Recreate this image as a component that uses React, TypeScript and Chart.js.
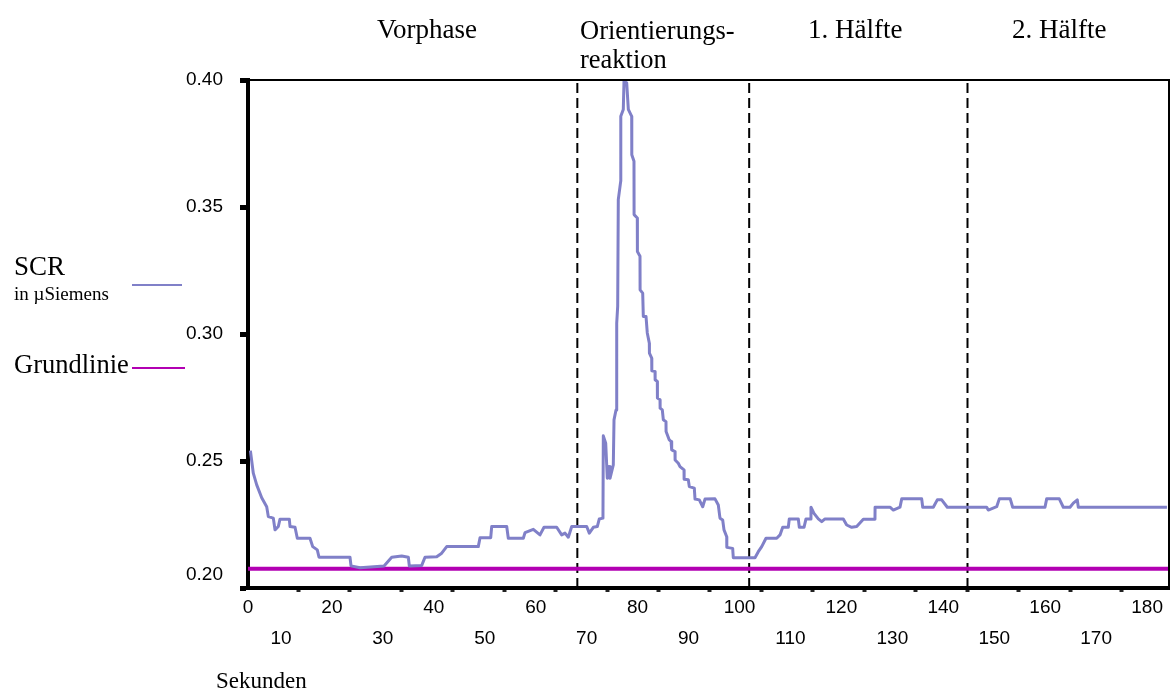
import React, { useEffect, useRef } from "react";
import { Chart, registerables } from "chart.js";

Chart.register(...registerables);

// Skin conductance response (µSiemens) over time in seconds
const seconds = [
  4.0, 4.57, 5.24, 6.22, 7.2, 7.52, 8.5, 8.83, 9.48, 9.81, 11.64, 11.78, 12.76, 13.21, 15.7, 16.23,
  17.13, 17.47, 23.55, 23.75, 25.52, 30.23, 31.74, 33.7, 35.0, 35.19, 37.63, 38.27, 40.57, 41.55,
  42.53, 48.73, 49.07, 51.17, 51.36, 54.31, 54.62, 57.57, 57.9, 59.53, 60.84, 61.63, 64.12, 65.1,
  65.75, 66.4, 67.07, 70.01, 70.52, 71.31, 72.09, 72.48, 73.2, 73.27, 73.74, 74.05, 74.39, 74.58,
  75.23, 75.37, 75.76, 75.9, 76.09, 76.21, 76.68, 76.7, 77.19, 77.33, 77.86, 78.18, 78.84, 78.86,
  79.29, 79.31, 79.94, 79.96, 80.47, 80.49, 81.0, 81.12, 81.65, 81.9, 82.3, 82.32, 82.77, 82.79,
  83.42, 83.44, 83.87, 83.89, 84.4, 84.42, 84.85, 85.05, 85.57, 85.59, 86.22, 86.56, 86.69, 87.34,
  87.36, 87.99, 88.32, 89.11, 89.13, 89.95, 90.15, 91.13, 91.27, 92.11, 92.78, 93.23, 95.19, 95.84,
  96.17, 96.7, 96.96, 97.49, 97.51, 98.66, 98.78, 103.04, 103.69, 104.36, 105.2, 107.3, 107.95,
  108.48, 109.58, 109.77, 111.54, 111.74, 112.66, 113.05, 113.84, 114.03, 114.62, 115.47, 116.14,
  116.78, 120.37, 121.04, 122.02, 123.0, 124.3, 126.59, 126.61, 129.54, 130.19, 131.5, 131.84,
  135.76, 135.96, 138.04, 138.82, 139.69, 140.79, 148.52, 148.83, 150.48, 150.99, 153.14, 153.62,
  159.96, 160.29, 162.77, 163.56, 164.87, 165.52, 166.3, 166.5, 183.9,
];

const scr = [
  0.2541, 0.2452, 0.2406, 0.2355, 0.232, 0.2281, 0.2275, 0.2229, 0.2242, 0.2271, 0.2271, 0.2242,
  0.2239, 0.2196, 0.2196, 0.2163, 0.215, 0.2121, 0.2121, 0.2087, 0.208, 0.2087, 0.2121, 0.2126,
  0.2121, 0.2087, 0.2089, 0.2121, 0.2123, 0.2137, 0.2163, 0.2163, 0.2198, 0.2198, 0.2242, 0.2242,
  0.2196, 0.2196, 0.2218, 0.2231, 0.2209, 0.2239, 0.2239, 0.2209, 0.2216, 0.22, 0.2242, 0.2242,
  0.2216, 0.2239, 0.2242, 0.2272, 0.2275, 0.2599, 0.257, 0.2432, 0.2478, 0.2432, 0.2485, 0.2662,
  0.2701, 0.3043, 0.3109, 0.3529, 0.3601, 0.3857, 0.3884, 0.3995, 0.3989, 0.3884, 0.3857, 0.3706,
  0.368, 0.347, 0.3457, 0.3325, 0.3306, 0.3174, 0.3161, 0.3069, 0.3069, 0.3004, 0.2964, 0.2925,
  0.2905, 0.2855, 0.2852, 0.282, 0.2813, 0.2748, 0.2741, 0.2708, 0.2701, 0.2662, 0.2655, 0.2616,
  0.2583, 0.2577, 0.2544, 0.2537, 0.2504, 0.2491, 0.2478, 0.2465, 0.2428, 0.2426, 0.2399, 0.2393,
  0.235, 0.2347, 0.232, 0.235, 0.2351, 0.2327, 0.2275, 0.2268, 0.2229, 0.2202, 0.216, 0.2156,
  0.2119, 0.2119, 0.2143, 0.2163, 0.2196, 0.2196, 0.2209, 0.2239, 0.2239, 0.2272, 0.2272, 0.2239,
  0.2239, 0.2272, 0.2272, 0.2318, 0.2294, 0.2272, 0.2261, 0.2272, 0.2272, 0.2248, 0.2239, 0.2242,
  0.2271, 0.2271, 0.2318, 0.2318, 0.2307, 0.2318, 0.2351, 0.2351, 0.2318, 0.2318, 0.2347, 0.2347,
  0.2318, 0.2318, 0.2307, 0.232, 0.2351, 0.2351, 0.2318, 0.2318, 0.2351, 0.2351, 0.2318, 0.2318,
  0.2334, 0.2347, 0.2318, 0.2318,
];

// Baseline level (Grundlinie)
const baselineLevel = 0.2076;

// Phase boundaries in seconds
const phaseBounds = [68.17, 101.9, 144.75];
const phaseNames = ["Vorphase", "Orientierungs-\nreaktion", "1. Hälfte", "2. Hälfte"];

// Axis ticks
const xTickValues = [0, 10, 20, 30, 40, 50, 60, 70, 80, 90, 100, 110, 120, 130, 140, 150, 160, 170, 180];
const xTickLabels = ["0", "10", "20", "30", "40", "50", "60", "70", "80", "90", "100", "110", "120", "130", "140", "150", "160", "170", "180"];
const xTickMarks = [13.4, 23.5, 33.6, 43.7, 53.8, 63.9, 74.0, 84.1, 94.2, 104.3, 114.4, 124.5, 134.6, 144.7, 154.8, 164.9, 175.0];
const yTickValues = [0.2, 0.25, 0.3, 0.35, 0.4];
const yTickLabels = ["0.20", "0.25", "0.30", "0.35", "0.40"];

const X_MIN = 3.53;
const X_MAX = 184.3;
const Y_MIN = 0.2;
const Y_MAX = 0.4;

const SCR_COLOR = "rgb(128,128,200)";
const BASE_COLOR = "rgb(178,0,178)";
const SANS = "'Liberation Sans', Arial, sans-serif";
const SERIF = "'Liberation Serif', 'Times New Roman', serif";

const framePlugin = {
  id: "frame",
  afterDraw(chart: any) {
    const { ctx, chartArea } = chart;
    ctx.save();
    ctx.strokeStyle = "#000";
    ctx.lineWidth = 2;
    ctx.beginPath();
    ctx.moveTo(chartArea.left - 2, chartArea.top);
    ctx.lineTo(chartArea.right, chartArea.top);
    ctx.lineTo(chartArea.right, chartArea.bottom);
    ctx.stroke();
    ctx.restore();
  },
};

function SerifText(props: { left: number; baseline: number; size: number; children: React.ReactNode }) {
  const { left, baseline, size, children } = props;
  return (
    <div
      style={{
        position: "absolute",
        left,
        top: baseline - size * 0.8375,
        fontFamily: SERIF,
        fontSize: size,
        lineHeight: `${size}px`,
        color: "#000",
        whiteSpace: "nowrap",
      }}
    >
      {children}
    </div>
  );
}

export default function App() {
  const canvasRef = useRef<HTMLCanvasElement | null>(null);

  useEffect(() => {
    if (!canvasRef.current) return;
    const scrPoints = seconds.map((s, i) => ({ x: s, y: scr[i] }));
    const boundSets = phaseBounds.map((b) => ({
      label: "phase",
      data: [
        { x: b, y: Y_MIN },
        { x: b, y: Y_MAX },
      ],
      borderColor: "#000",
      borderWidth: 2,
      borderDash: [10, 5],
      pointRadius: 0,
      fill: false,
    }));

    const chart = new Chart(canvasRef.current, {
      type: "line",
      data: {
        datasets: [
          {
            label: "SCR",
            data: scrPoints,
            borderColor: SCR_COLOR,
            borderWidth: 3,
            pointRadius: 0,
            tension: 0,
            fill: false,
            borderJoinStyle: "round",
          },
          {
            label: "Grundlinie",
            data: [
              { x: X_MIN, y: baselineLevel },
              { x: X_MAX, y: baselineLevel },
            ],
            borderColor: BASE_COLOR,
            borderWidth: 4,
            pointRadius: 0,
            fill: false,
          },
          ...boundSets,
        ] as any,
      },
      options: {
        animation: false,
        responsive: false,
        devicePixelRatio: 1,
        layout: { padding: { top: 80, right: 3, bottom: 0, left: 0 } },
        plugins: {
          legend: { display: false },
          tooltip: { enabled: false },
          title: { display: false },
        },
        scales: {
          x: {
            type: "linear",
            position: "bottom",
            weight: 1,
            min: X_MIN,
            max: X_MAX,
            grid: { display: false, drawTicks: false },
            border: { display: false },
            afterBuildTicks: (scale: any) => {
              scale.ticks = xTickValues.map((v) => ({ value: Math.max(v, X_MIN) }));
            },
            afterFit: (scale: any) => {
              scale.height = 104;
              scale.paddingLeft = 0;
              scale.paddingRight = 0;
            },
            ticks: {
              autoSkip: false,
              maxRotation: 0,
              minRotation: 0,
              padding: 4.5,
              color: "#000",
              font: { family: SANS, size: 19, lineHeight: 31 / 19 },
              callback: (_v: any, i: number) => (i % 2 === 0 ? xTickLabels[i] : ["", xTickLabels[i]]),
            },
          },
          xt: {
            type: "linear",
            position: "bottom",
            weight: 0,
            min: X_MIN,
            max: X_MAX,
            grid: {
              display: true,
              drawOnChartArea: false,
              drawTicks: true,
              tickLength: 4,
              tickWidth: 4,
              tickColor: "#222",
            },
            border: { display: true, color: "#000", width: 4 },
            afterBuildTicks: (scale: any) => {
              scale.ticks = xTickMarks.map((v) => ({ value: v }));
            },
            afterFit: (scale: any) => {
              scale.height = 0;
              scale.paddingLeft = 0;
              scale.paddingRight = 0;
            },
            ticks: { display: false },
          },
          y: {
            type: "linear",
            position: "left",
            min: Y_MIN,
            max: Y_MAX,
            grid: {
              display: true,
              drawOnChartArea: false,
              drawTicks: true,
              tickLength: 8,
              tickWidth: 5,
              tickColor: "#000",
            },
            border: { display: true, color: "#000", width: 4 },
            afterBuildTicks: (scale: any) => {
              scale.ticks = yTickValues.map((v) => ({ value: v }));
            },
            afterFit: (scale: any) => {
              scale.width = 248;
            },
            ticks: {
              padding: 17,
              color: "#000",
              font: { family: SANS, size: 19, lineHeight: 1.37 },
              callback: (_v: any, i: number) => (i === 0 ? [yTickLabels[i], ""] : yTickLabels[i]),
            },
          },
        },
      } as any,
      plugins: [framePlugin],
    });

    return () => chart.destroy();
  }, []);

  const [orient1, orient2] = phaseNames[1].split("\n");

  return (
    <div style={{ position: "fixed", left: 0, top: 0, width: 1172, height: 692, background: "#fff" }}>
      <canvas ref={canvasRef} width={1172} height={692} style={{ width: 1172, height: 692, display: "block" }} />

      <SerifText left={377} baseline={39} size={27}>{phaseNames[0]}</SerifText>
      <SerifText left={580} baseline={39} size={26.5}>{orient1}</SerifText>
      <SerifText left={580} baseline={68} size={26.5}>{orient2}</SerifText>
      <SerifText left={808} baseline={39} size={27}>{phaseNames[2]}</SerifText>
      <SerifText left={1012} baseline={39} size={27}>{phaseNames[3]}</SerifText>

      <SerifText left={14} baseline={276} size={27}>SCR</SerifText>
      <SerifText left={14} baseline={300} size={19}>in µSiemens</SerifText>
      <div style={{ position: "absolute", left: 132, top: 284, width: 50, height: 2, background: SCR_COLOR }} />

      <SerifText left={14} baseline={373} size={26.5}>Grundlinie</SerifText>
      <div style={{ position: "absolute", left: 132, top: 367, width: 53, height: 2, background: BASE_COLOR }} />

      <SerifText left={216} baseline={688} size={23}>Sekunden</SerifText>
    </div>
  );
}
